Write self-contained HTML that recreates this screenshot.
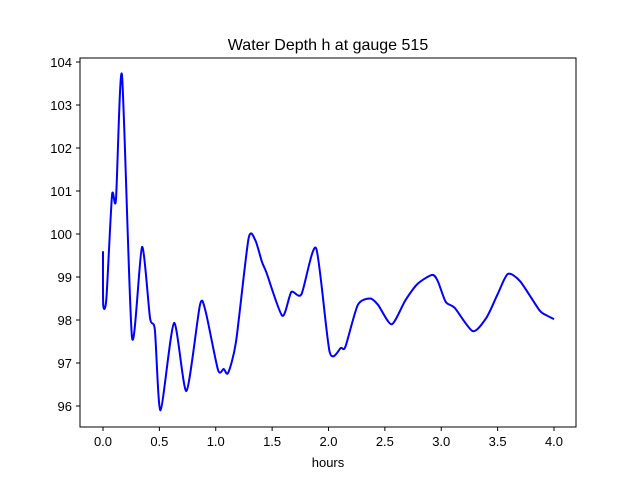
<!DOCTYPE html>
<html><head><meta charset="utf-8"><style>
body{margin:0;background:#fff;font-family:"Liberation Sans",sans-serif;}
svg text{font-family:"Liberation Sans",sans-serif;font-size:13px;fill:#000;}
</style></head><body>
<svg width="640" height="480">
<rect width="640" height="480" fill="#fff"/>
<text x="328" y="50" text-anchor="middle" style="font-size:16px">Water Depth h at gauge 515</text>
<g id="axes"></g>
<path id="line" fill="none" stroke="#0000ff" stroke-width="2"/>
<rect x="80" y="58" width="496" height="369" fill="none" stroke="#000" stroke-width="1"/>
<text x="328" y="467" text-anchor="middle">hours</text>
</svg>
<script>
const hours=[0,0.002,0.03,0.08,0.115,0.168,0.257,0.346,0.417,0.46,0.51,0.63,0.74,0.86,0.91,1.02,1.07,1.11,1.18,1.29,1.35,1.41,1.45,1.59,1.67,1.76,1.89,2.01,2.11,2.15,2.26,2.37,2.44,2.56,2.68,2.79,2.92,2.97,3.04,3.12,3.28,3.4,3.5,3.59,3.7,3.87,3.94,4.0];
const depth=[99.6,98.35,98.5,100.9,100.8,103.7,97.6,99.7,98.05,97.77,95.9,97.93,96.35,98.35,98.2,96.84,96.86,96.77,97.5,99.88,99.86,99.35,99.1,98.1,98.65,98.6,99.67,97.26,97.35,97.38,98.35,98.5,98.35,97.9,98.45,98.84,99.05,98.9,98.42,98.28,97.74,98.05,98.6,99.07,98.9,98.23,98.1,98.02];
const xTicks=[0,0.5,1,1.5,2,2.5,3,3.5,4];
const yTicks=[96,97,98,99,100,101,102,103,104];
const X=v=>103+v*112.75, Y=v=>406-(v-96)*43;
const ns="http://www.w3.org/2000/svg", g=document.getElementById('axes');
xTicks.forEach(t=>{
 const l=document.createElementNS(ns,'line');
 
 
 l.setAttribute('x1',X(t));l.setAttribute('x2',X(t));l.setAttribute('y1',427);l.setAttribute('y2',431);l.setAttribute('stroke','#000');g.appendChild(l);
 const s=document.createElementNS(ns,'text');
 
 
 s.setAttribute('x',X(t));s.setAttribute('y',446);s.setAttribute('text-anchor','middle');s.textContent=t.toFixed(1);g.appendChild(s);
});
yTicks.forEach(t=>{
 const l=document.createElementNS(ns,'line');
 
 
 l.setAttribute('x1',76);l.setAttribute('x2',80);l.setAttribute('y1',Y(t));l.setAttribute('y2',Y(t));l.setAttribute('stroke','#000');g.appendChild(l);
 const s=document.createElementNS(ns,'text');
 
 
 s.setAttribute('x',72);s.setAttribute('y',Y(t)+5);s.setAttribute('text-anchor','end');s.textContent=t;g.appendChild(s);
});
const P=hours.map((h,i)=>[X(h),Y(depth[i])]);
let d='M'+P[0][0]+','+P[0][1];
for(let i=0;i<P.length-1;i++){
 const p0=P[Math.max(0,i-1)],p1=P[i],p2=P[i+1],p3=P[Math.min(P.length-1,i+2)];
 const k=0.12;
 d+=' C'+(p1[0]+(p2[0]-p0[0])*k)+','+(p1[1]+(p2[1]-p0[1])*k)+' '+(p2[0]-(p3[0]-p1[0])*k)+','+(p2[1]-(p3[1]-p1[1])*k)+' '+p2[0]+','+p2[1];
}
document.getElementById('line').setAttribute('d',d);
</script>
</body></html>
